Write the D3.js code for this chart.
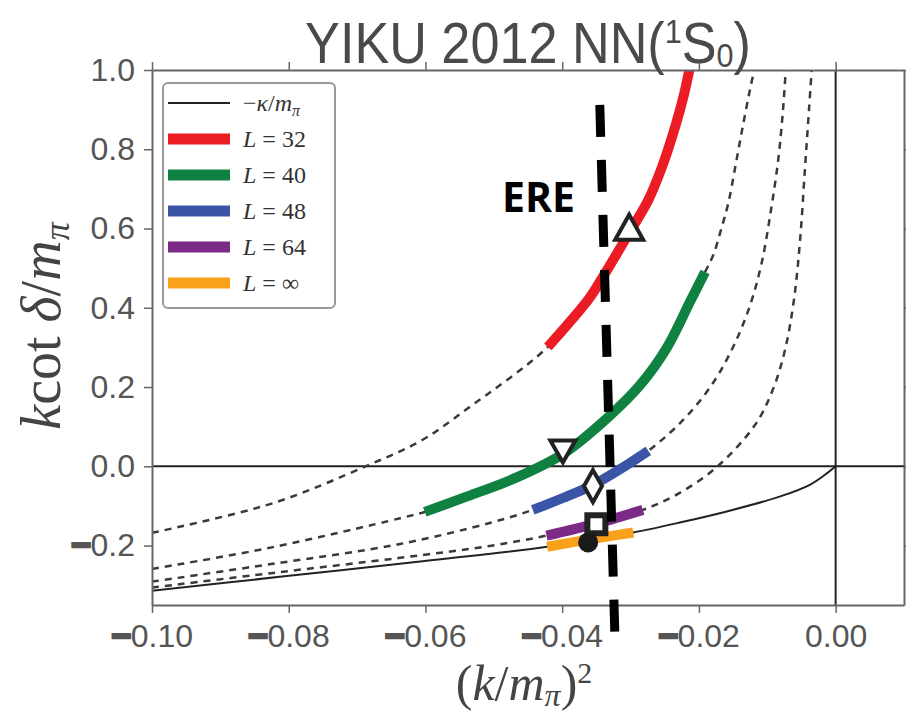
<!DOCTYPE html>
<html>
<head>
<meta charset="utf-8">
<script src="https://cdn.jsdelivr.net/npm/d3@7"></script>
<style>
  html, body { margin: 0; padding: 0; background: #fff; }
  #chart { width: 906px; height: 714px; }
</style>
</head>
<body>
<div id="chart"></div>
<script>
// Curves: (k/m_pi)^2 vs k cot(delta)/m_pi
const boundX = [-0.100, -0.0803, -0.0601, -0.0422, -0.0362, -0.0296, -0.0228, -0.0155, -0.0081, -0.0037, -0.0016, 0.0];
const boundY = [-0.314, -0.277, -0.239, -0.203, -0.185, -0.167, -0.142, -0.112, -0.076, -0.046, -0.022, 0.0];

const l32X = [-0.100, -0.0823, -0.0686, -0.0604, -0.0539, -0.0421, -0.0362, -0.0345, -0.0301, -0.0274, -0.0253, -0.0234, -0.0222, -0.0214];
const l32Y = [-0.168, -0.093, 0.001, 0.067, 0.145, 0.301, 0.420, 0.465, 0.592, 0.672, 0.760, 0.861, 0.937, 1.0];

const l40X = [-0.100, -0.0823, -0.0637, -0.0601, -0.0539, -0.0469, -0.0399, -0.0334, -0.0286, -0.0247, -0.0213, -0.0191, -0.0179, -0.0168, -0.0157, -0.0146, -0.0136, -0.0125, -0.0119];
const l40Y = [-0.259, -0.204, -0.131, -0.115, -0.076, -0.030, 0.031, 0.122, 0.205, 0.299, 0.415, 0.490, 0.533, 0.595, 0.664, 0.763, 0.856, 0.953, 1.0];

const l48X = [-0.100, -0.0823, -0.0637, -0.0506, -0.0443, -0.0399, -0.0355, -0.0315, -0.0274, -0.0223, -0.0181, -0.0150, -0.0125, -0.0108, -0.0095, -0.0084, -0.0077, -0.0073];
const l48Y = [-0.291, -0.246, -0.196, -0.143, -0.110, -0.080, -0.047, -0.007, 0.039, 0.117, 0.206, 0.301, 0.407, 0.515, 0.642, 0.773, 0.899, 1.0];

const l64X = [-0.100, -0.0823, -0.0637, -0.0506, -0.0423, -0.0349, -0.0282, -0.0228, -0.0174, -0.0118, -0.0092, -0.0074, -0.0061, -0.0052, -0.0045, -0.0039, -0.0035];
const l64Y = [-0.306, -0.269, -0.231, -0.201, -0.175, -0.144, -0.110, -0.067, -0.002, 0.104, 0.193, 0.294, 0.420, 0.571, 0.748, 0.899, 1.0];

// thick (lattice) part of each curve: [from, to]
const segL32 = [-0.0421, -0.0214];
const segL40 = [-0.0601, -0.0191];
const segL48 = [-0.0443, -0.0274];
const segL64 = [-0.0423, -0.0282];
const segInf = [-0.0422, -0.0296];

const seriesNames = ['L = 32', 'L = 40', 'L = 48', 'L = 64', 'L = ∞'];
const seriesColors = ['#ec1c24', '#0f8140', '#3a55a5', '#7b2a85', '#f9a11b'];

// markers
const markerX = [-0.0302, -0.0399, -0.0355, -0.0350, -0.0362];
const markerY = [0.597, 0.040, -0.050, -0.146, -0.192];
const markerShape = ['triangleUp', 'triangleDown', 'diamond', 'square', 'circle'];

// ERE dashed line and label
const ereX = [-0.0345, -0.0323];
const ereY = [0.912, -0.421];
const ereLabel = { x: -0.0488, y: 0.642, text: 'ERE' };

const xTicks = [-0.10, -0.08, -0.06, -0.04, -0.02, 0.00];
const yTicks = [-0.2, 0.0, 0.2, 0.4, 0.6, 0.8, 1.0];

const container = document.getElementById('chart');
const margin = { top: 70, right: 2, bottom: 109, left: 152 };
const width = 906 - margin.left - margin.right;
const height = 714 - margin.top - margin.bottom;

const svg = d3.select(container)
    .append('svg')
    .attr('width', 906)
    .attr('height', 714)
    .append('g')
    .attr('transform', `translate(${margin.left},${margin.top})`);

const x = d3.scaleLinear().domain([-0.10, 0.01]).range([0, width]);
const y = d3.scaleLinear().domain([-0.35, 1.0]).range([height, 0]);

svg.append('clipPath').attr('id', 'plot-clip')
    .append('rect').attr('width', width).attr('height', height);

const zip = (xs, ys) => xs.map((v, i) => ({ x: v, y: ys[i] }));
const line = d3.line().x(d => x(d.x)).y(d => y(d.y)).curve(d3.curveCatmullRom.alpha(0.5));
const inRange = (pts, r) => pts.filter(p => p.x >= r[0] - 1e-9 && p.x <= r[1] + 1e-9);

const plot = svg.append('g').attr('clip-path', 'url(#plot-clip)');

// zero lines
plot.append('line')
    .attr('x1', 0).attr('x2', width)
    .attr('y1', y(0)).attr('y2', y(0))
    .attr('stroke', '#222').attr('stroke-width', 2);
plot.append('line')
    .attr('x1', x(0)).attr('x2', x(0))
    .attr('y1', 0).attr('y2', height)
    .attr('stroke', '#222').attr('stroke-width', 2);

// dashed finite-volume curves
const curves = [zip(l32X, l32Y), zip(l40X, l40Y), zip(l48X, l48Y), zip(l64X, l64Y)];
curves.forEach(pts => {
    plot.append('path')
        .datum(pts)
        .attr('fill', 'none')
        .attr('stroke', '#3a3a3a')
        .attr('stroke-width', 2.5)
        .attr('stroke-dasharray', '7,6')
        .attr('d', line);
});

// bound state line -kappa/m_pi
const bound = zip(boundX, boundY);
plot.append('path')
    .datum(bound)
    .attr('fill', 'none')
    .attr('stroke', '#222')
    .attr('stroke-width', 2)
    .attr('d', line);

// thick coloured pieces
const thick = [
    inRange(curves[0], segL32),
    inRange(curves[1], segL40),
    inRange(curves[2], segL48),
    inRange(curves[3], segL64),
    inRange(bound, segInf)
];
thick.forEach((pts, i) => {
    plot.append('path')
        .datum(pts)
        .attr('fill', 'none')
        .attr('stroke', seriesColors[i])
        .attr('stroke-width', 10)
        .attr('stroke-linecap', 'butt')
        .attr('d', line);
});

// markers
const markerPath = {
    triangleUp: 'M0,-15L14,10L-14,10Z',
    triangleDown: 'M0,12L12.5,-10L-12.5,-10Z',
    diamond: 'M0,-16L9,0L0,16L-9,0Z',
    square: 'M-9,-9L9,-9L9,9L-9,9Z'
};
markerShape.forEach((s, i) => {
    const g = svg.append('g')
        .attr('transform', `translate(${x(markerX[i])},${y(markerY[i])})`);
    if (s === 'circle') {
        g.append('circle').attr('r', 10).attr('fill', '#1a1a1a');
    } else {
        g.append('path')
            .attr('d', markerPath[s])
            .attr('fill', '#fff')
            .attr('stroke', '#222')
            .attr('stroke-width', s === 'square' ? 6 : 4)
            .attr('stroke-linejoin', 'miter');
    }
});

// axes
const axisColor = '#666';
const labelColor = '#555';
const fmtX = d3.format('.2f');
const fmtY = d3.format('.1f');

function thickMinus(sel, fmt) {
    sel.each(function (d) {
        const t = d3.select(this);
        const s = fmt(d);
        t.text(null);
        if (s.startsWith('−')) {
            t.append('tspan').attr('stroke', labelColor).attr('stroke-width', 4).text('−');
            t.append('tspan').text(s.slice(1));
        } else {
            t.text(s);
        }
    });
}

const styleAxis = g => {
    g.select('.domain').attr('stroke', axisColor).attr('stroke-width', 2);
    g.selectAll('.tick line').attr('stroke', axisColor).attr('stroke-width', 1.5);
    g.selectAll('text')
        .attr('fill', labelColor)
        .style('font-family', '"Liberation Sans", Arial, sans-serif')
        .style('font-size', '32px');
};

svg.append('g')
    .attr('transform', `translate(0,${height})`)
    .call(d3.axisBottom(x).tickValues(xTicks).tickSize(8).tickSizeOuter(0).tickPadding(11))
    .call(styleAxis)
    .selectAll('.tick text')
    .call(thickMinus, fmtX);

svg.append('g')
    .call(d3.axisTop(x).tickValues(xTicks).tickSize(8).tickSizeOuter(0).tickFormat(''))
    .call(styleAxis);

svg.append('g')
    .call(d3.axisLeft(y).tickValues(yTicks).tickSize(8).tickSizeOuter(0).tickPadding(9))
    .call(styleAxis)
    .selectAll('.tick text')
    .call(thickMinus, fmtY);

svg.append('g')
    .attr('transform', `translate(${width},0)`)
    .call(d3.axisRight(y).tickValues(yTicks).tickSize(8).tickSizeOuter(0).tickFormat(''))
    .call(styleAxis);

// ERE dashed line (drawn over everything, not clipped)
svg.append('path')
    .datum(zip(ereX, ereY))
    .attr('fill', 'none')
    .attr('stroke', '#000')
    .attr('stroke-width', 9)
    .attr('stroke-dasharray', '32,23')
    .attr('d', d3.line().x(d => x(d.x)).y(d => y(d.y)));

svg.append('text')
    .attr('x', x(ereLabel.x))
    .attr('y', y(ereLabel.y))
    .style('font-family', '"Open Sans", "Noto Sans", sans-serif')
    .style('font-weight', 'bold')
    .style('font-size', '41px')
    .attr('fill', '#000')
    .text(ereLabel.text);

// legend
const legend = svg.append('g').attr('transform', 'translate(11,13)');
legend.append('rect')
    .attr('width', 172).attr('height', 225)
    .attr('rx', 5)
    .attr('fill', '#fff')
    .attr('stroke', '#999')
    .attr('stroke-width', 2);

const serif = '"Liberation Serif", "DejaVu Serif", serif';
const rowY = i => 20 + i * 36;

legend.append('line')
    .attr('x1', 5).attr('x2', 67)
    .attr('y1', rowY(0)).attr('y2', rowY(0))
    .attr('stroke', '#222').attr('stroke-width', 2);
const t0 = legend.append('text')
    .attr('x', 80).attr('y', rowY(0) + 8)
    .attr('fill', '#333')
    .style('font-family', serif).style('font-size', '24px');
t0.append('tspan').text('−');
t0.append('tspan').style('font-style', 'italic').text('κ');
t0.append('tspan').text('/');
t0.append('tspan').style('font-style', 'italic').text('m');
t0.append('tspan').style('font-style', 'italic').style('font-size', '16px').attr('dy', 5).text('π');

seriesNames.forEach((name, i) => {
    const yy = rowY(i + 1);
    legend.append('line')
        .attr('x1', 5).attr('x2', 67)
        .attr('y1', yy).attr('y2', yy)
        .attr('stroke', seriesColors[i]).attr('stroke-width', 11);
    const t = legend.append('text')
        .attr('x', 80).attr('y', yy + 8)
        .attr('fill', '#333')
        .style('font-family', serif).style('font-size', '24px');
    t.append('tspan').style('font-style', 'italic').text(name.slice(0, 1));
    t.append('tspan').text(name.slice(1));
});

// title
const title = svg.append('text')
    .attr('transform', `translate(${width / 2},${-7}) scale(0.9,1)`)
    .attr('text-anchor', 'middle')
    .attr('fill', '#4a4a4a')
    .style('font-family', '"Liberation Sans", Arial, sans-serif')
    .style('font-size', '58px');
title.append('tspan').text('YIKU 2012 NN(');
title.append('tspan').style('font-size', '34px').attr('dy', -20).text('1');
title.append('tspan').attr('dy', 20).text('S');
title.append('tspan').style('font-size', '34px').attr('dy', 4).text('0');
title.append('tspan').attr('dy', -4).text(')');

// axis labels
const xl = svg.append('text')
    .attr('x', width / 2 - 4)
    .attr('y', height + 95)
    .attr('text-anchor', 'middle')
    .attr('fill', '#444')
    .style('font-family', serif)
    .style('font-size', '50px');
xl.append('tspan').text('(');
xl.append('tspan').style('font-style', 'italic').text('k');
xl.append('tspan').text('/');
xl.append('tspan').style('font-style', 'italic').text('m');
xl.append('tspan').style('font-style', 'italic').style('font-size', '32px').attr('dy', 6).text('π');
xl.append('tspan').attr('dy', -6).text(')');
xl.append('tspan').style('font-size', '30px').attr('dy', -17).text('2');

const yl = svg.append('text')
    .attr('transform', `translate(${60 - margin.left},${326 - margin.top}) rotate(-90)`)
    .attr('text-anchor', 'middle')
    .attr('fill', '#444')
    .style('font-family', serif)
    .style('font-size', '56px');
yl.append('tspan').style('font-style', 'italic').text('k');
yl.append('tspan').text('cot ');
yl.append('tspan').style('font-style', 'italic').text('δ');
yl.append('tspan').text('/');
yl.append('tspan').style('font-style', 'italic').text('m');
yl.append('tspan').style('font-style', 'italic').style('font-size', '36px').attr('dy', 9).text('π');
</script>
</body>
</html>
